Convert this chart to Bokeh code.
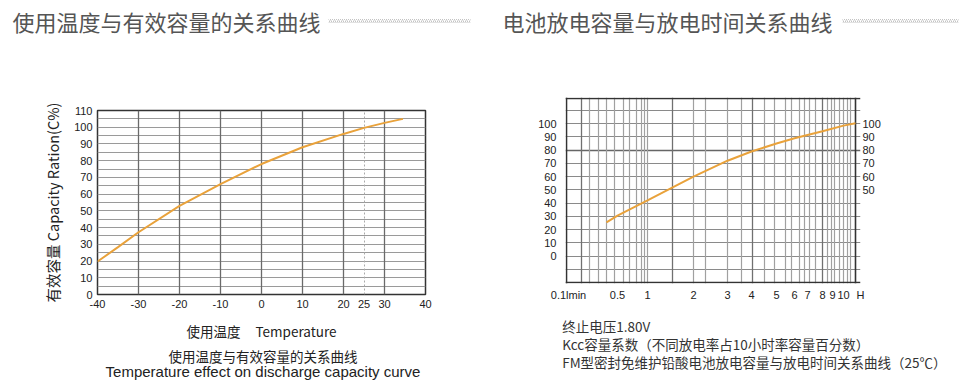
import numpy as np
from bokeh.plotting import figure
from bokeh.models import Range1d, FixedTicker, Grid, LinearAxis
from bokeh.layouts import column, row
from bokeh.embed import file_html
from bokeh.resources import INLINE
from bokeh.core.properties import value

# ---------------- data ----------------
left_title = "使用温度与有效容量的关系曲线"
right_title = "电池放电容量与放电时间关系曲线"

# left chart: temperature effect on capacity
temp_c = [-40, -35, -30, -20, -10, 0, 10, 20, 25, 30, 34.5]
capacity_pct = [19.7, 28.3, 37.2, 53, 66, 78, 88, 96, 99.6, 102.6, 105]
temp_ticks = [-40, -30, -20, -10, 0, 10, 20, 25, 30, 40]
cap_ticks = list(range(0, 111, 10))

# right chart: capacity coefficient vs discharge time
hours = [0.41, 0.5, 1, 2, 3, 4, 5, 6, 8, 10, 11.1]
kcc_pct = [25.4, 30.5, 42, 60, 72, 79, 85, 89, 94.2, 98.5, 100.3]
time_hours = [0.1, 0.5, 1, 2, 3, 4, 5, 6, 7, 8, 9, 10]
time_labels = ["0.1lmin", "0.5", "1", "2", "3", "4", "5", "6", "7", "8", "9", "10"]
unit_label = "H"
kcc_ticks_left = list(range(0, 101, 10))
kcc_ticks_right = list(range(50, 101, 10))
kcc_box = (-20, 119)

# the right chart's printed (non-uniform) time scale: hours -> paper units
scale_hours = time_hours + [11.1]
scale_paper = [2, 51, 81, 127, 161, 185, 210, 228, 241, 256, 266, 277, 289]
paper_end = 289
unit_label_pos = 294
paper_grid_light = [23, 31.7, 40, 47.7, 57.3, 63.3, 70, 74.7, 78.3, 81, 126.7, 139,
                    160.7, 174.7, 198.3, 208.3, 219.3, 225, 233, 238.3, 243.3, 248.7,
                    260.7, 265, 268.3, 273, 276.7, 280.7, 284]
paper_grid_dark = [15, 105.7, 185.7, 255.7]

notes = ["终止电压1.80V",
         "Kcc容量系数（不同放电率占10小时率容量百分数）",
         "FM型密封免维护铅酸电池放电容量与放电时间关系曲线（25℃）"]
left_caption = [left_title, "Temperature effect on discharge capacity curve"]

CURVE = "#E9A23B"
CJK = "Noto Sans CJK SC"
LAT = "Liberation Sans"


def blank(width, height):
    p = figure(width=width, height=height, x_range=Range1d(0, width), y_range=Range1d(height, 0),
               x_axis_type=None, y_axis_type=None, min_border=0, outline_line_color=None,
               toolbar_location=None, output_backend="svg")
    p.frame_align = False
    return p


# ---------------- header ----------------
hdr = blank(968, 40)
hdr.text(x=[12, 502], y=[20, 20], text=[left_title, right_title], text_font=value(CJK),
         text_font_size="22px", text_color="#555555", text_baseline="middle", text_align="left")
hdr.quad(left=[328, 842], right=[470, 958], top=[18.5, 18.5], bottom=[22.5, 22.5],
         fill_color=None, line_color=None, hatch_pattern="/", hatch_color="#c4c4c4",
         hatch_scale=4, hatch_weight=1)


def style_axis(ax, standoff):
    ax.major_tick_in = 0
    ax.major_tick_out = 0
    ax.minor_tick_line_color = None
    ax.axis_line_color = None
    ax.major_label_text_font = LAT
    ax.major_label_text_font_size = "11px"
    ax.major_label_text_color = "#222222"
    ax.major_label_standoff = standoff


# ---------------- left chart ----------------
pl = figure(frame_width=328, frame_height=184, min_border_left=97, min_border_right=59,
            min_border_top=70, min_border_bottom=48, x_range=Range1d(-40, 40),
            y_range=Range1d(0, 110), toolbar_location=None, output_backend="svg")
pl.frame_align = False
pl.grid.visible = False
pl.outline_line_color = "#333333"
pl.outline_line_width = 1.5
pl.xaxis[0].ticker = FixedTicker(ticks=temp_ticks)
pl.xaxis[0].major_label_overrides = {t: str(t) for t in temp_ticks}
pl.yaxis[0].ticker = FixedTicker(ticks=cap_ticks)
style_axis(pl.xaxis[0], 5)
style_axis(pl.yaxis[0], 5)
pl.xaxis[0].axis_label = "使用温度\u00a0\u00a0\u00a0\u00a0\u00a0Temperature"
pl.yaxis[0].axis_label = "有效容量 Capacity Ration(C%)"
for ax, fs in ((pl.xaxis[0], "13.5px"), (pl.yaxis[0], "14.5px")):
    ax.axis_label_text_font = CJK
    ax.axis_label_text_font_style = "normal"
    ax.axis_label_text_font_size = fs
    ax.axis_label_text_color = "#222222"
pl.xaxis[0].axis_label_standoff = 10
pl.yaxis[0].axis_label_standoff = 8

pl.add_layout(Grid(dimension=1, ticker=FixedTicker(ticks=list(range(5, 110, 5))),
                   grid_line_color="#9a9a9a", grid_line_width=1.2))
pl.add_layout(Grid(dimension=0, ticker=FixedTicker(ticks=[-30, -20, -10, 0, 10, 20, 30]),
                   grid_line_color="#6a6a6a", grid_line_width=1.3))
pl.add_layout(Grid(dimension=0, ticker=FixedTicker(ticks=[25]),
                   grid_line_color="#aaaaaa", grid_line_width=1, grid_line_dash="2 2"))
pl.line(temp_c, capacity_pct, line_color=CURVE, line_width=2)

footL = blank(484, 49)
footL.text(x=[262.5], y=[12], text=[left_caption[0]], text_font=value(CJK),
           text_font_size="13.5px", text_color="#222222", text_align="center",
           text_baseline="middle")
footL.text(x=[262.5], y=[28], text=[left_caption[1]], text_font=value(LAT),
           text_font_size="15px", text_color="#222222", text_align="center",
           text_baseline="middle")

# ---------------- right chart ----------------
# the frame reaches to the "H" unit label (plus a pixel of margin round the chart box);
# the chart box itself is drawn with bounded grid lines spanning 0..paper_end
pr = figure(frame_width=295, frame_height=186, min_border_left=81, min_border_right=108,
            min_border_top=57, min_border_bottom=29, x_range=Range1d(-1, unit_label_pos),
            y_range=Range1d(kcc_box[0] - 0.76, kcc_box[1] + 0.76), toolbar_location=None,
            output_backend="svg")
pr.frame_align = False
pr.grid.visible = False
pr.outline_line_color = None
tick_pos = scale_paper[:len(time_hours)] + [unit_label_pos]
tick_lab = time_labels + [unit_label]
pr.xaxis[0].ticker = FixedTicker(ticks=tick_pos)
pr.xaxis[0].major_label_overrides = {int(p): lab for p, lab in zip(tick_pos, tick_lab)}
pr.yaxis[0].ticker = FixedTicker(ticks=kcc_ticks_left)
style_axis(pr.xaxis[0], 5)
style_axis(pr.yaxis[0], 9)
rax = LinearAxis(ticker=FixedTicker(ticks=kcc_ticks_right))
style_axis(rax, 2)
pr.add_layout(rax, "right")

box_x = (0, paper_end)
pr.add_layout(Grid(dimension=1, ticker=FixedTicker(ticks=[-10, 0, 10, 20, 30, 40, 50, 60, 70, 90, 100, 110]),
                   grid_line_color="#8a8a8a", grid_line_width=1.2, bounds=box_x))
pr.add_layout(Grid(dimension=1, ticker=FixedTicker(ticks=[80]),
                   grid_line_color="#666666", grid_line_width=1.3, bounds=box_x))
pr.add_layout(Grid(dimension=0, ticker=FixedTicker(ticks=paper_grid_light),
                   grid_line_color="#a0a0a0", grid_line_width=1.2, bounds=kcc_box))
pr.add_layout(Grid(dimension=0, ticker=FixedTicker(ticks=paper_grid_dark),
                   grid_line_color="#707070", grid_line_width=1.3, bounds=kcc_box))
# chart box
pr.add_layout(Grid(dimension=1, ticker=FixedTicker(ticks=list(kcc_box)),
                   grid_line_color="#333333", grid_line_width=1.6, bounds=box_x))
pr.add_layout(Grid(dimension=0, ticker=FixedTicker(ticks=list(box_x)),
                   grid_line_color="#333333", grid_line_width=1.6, bounds=kcc_box))

paper_x = np.interp(hours, scale_hours, scale_paper)
pr.line(paper_x, kcc_pct, line_color=CURVE, line_width=2)

footR = blank(484, 79)
footR.text(x=[77.7] * 3, y=[13, 31.3, 49.7], text=notes, text_font=value(CJK),
           text_font_size="13.5px", text_color="#333333", text_align="left",
           text_baseline="middle")

layout = column(hdr, row(column(pl, footL), column(pr, footR)))
open("out.html", "w").write(file_html(layout, INLINE))
